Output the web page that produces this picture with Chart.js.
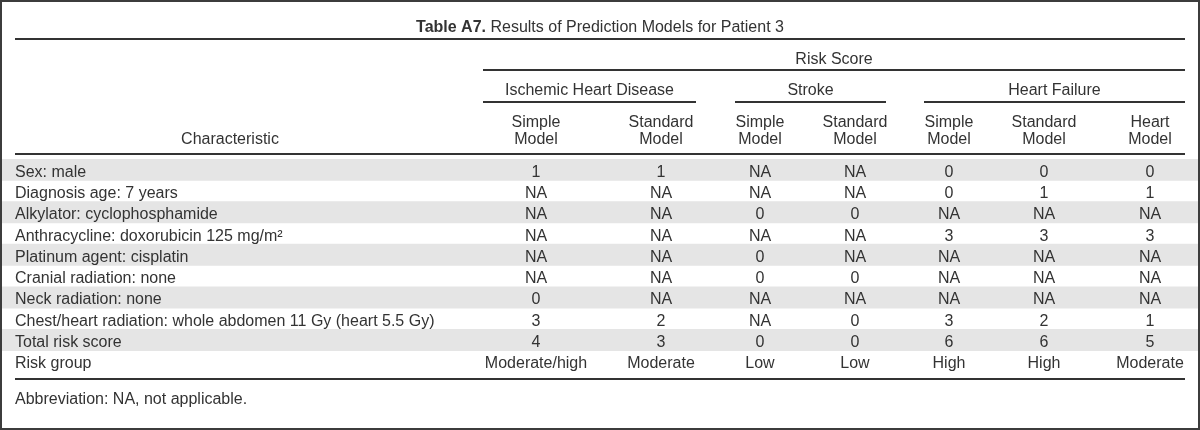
<!DOCTYPE html>
<html>
<head>
<meta charset="utf-8">
<script src="https://cdn.jsdelivr.net/npm/chart.js@4.4.1/dist/chart.umd.min.js"></script>
<style>
html,body{margin:0;padding:0;background:#fff}
#wrap{position:relative;width:1200px;height:430px}
</style>
</head>
<body>
<div id="wrap"><canvas id="c"></canvas></div>
<script>
// ---- data ----
const titleBold = "Table A7.";
const titleText = "Results of Prediction Models for Patient 3";
const spannerLabel = "Risk Score";
const groupLabels = ["Ischemic Heart Disease", "Stroke", "Heart Failure"];
const stubHeader = "Characteristic";
const modelHeaders = [
  ["Simple", "Model"], ["Standard", "Model"],
  ["Simple", "Model"], ["Standard", "Model"],
  ["Simple", "Model"], ["Standard", "Model"], ["Heart", "Model"]
];
const characteristics = [
  "Sex: male",
  "Diagnosis age: 7 years",
  "Alkylator: cyclophosphamide",
  "Anthracycline: doxorubicin 125 mg/m\u00B2",
  "Platinum agent: cisplatin",
  "Cranial radiation: none",
  "Neck radiation: none",
  "Chest/heart radiation: whole abdomen 11 Gy (heart 5.5 Gy)",
  "Total risk score",
  "Risk group"
];
const ihdSimple     = ["1", "NA", "NA", "NA", "NA", "NA", "0", "3", "4", "Moderate/high"];
const ihdStandard   = ["1", "NA", "NA", "NA", "NA", "NA", "NA", "2", "3", "Moderate"];
const strokeSimple  = ["NA", "NA", "0", "NA", "0", "0", "NA", "NA", "0", "Low"];
const strokeStandard= ["NA", "NA", "0", "NA", "NA", "0", "NA", "0", "0", "Low"];
const hfSimple      = ["0", "0", "NA", "3", "NA", "NA", "NA", "3", "6", "High"];
const hfStandard    = ["0", "1", "NA", "3", "NA", "NA", "NA", "2", "6", "High"];
const hfHeart       = ["0", "1", "NA", "3", "NA", "NA", "NA", "1", "5", "Moderate"];
const footnote = "Abbreviation: NA, not applicable.";

const modelColumns = [ihdSimple, ihdStandard, strokeSimple, strokeStandard, hfSimple, hfStandard, hfHeart];

// ---- layout (positions in x-scale units / pixels) ----
const LAYOUT = {
  ruleLeft: 15, ruleRight: 1185, spanLeft: 483,
  colX: [536, 661, 760, 855, 949, 1044, 1150],
  stubX: 230, textLeft: 15,
  titleY: 32, spannerY: 64, groupY: 95, sub1Y: 127, sub2Y: 144, footY: 404,
  rules: { title: 38, spanner: 69, group: 101, head: 153, bottom: 378 },
  groupRules: [[483, 696], [735, 886], [924, 1185]]
};
const FONT = '"Liberation Sans", Arial, sans-serif';
const INK = '#333333';

const tablePlugin = {
  id: 'tableText',
  afterDatasetsDraw(chart) {
    const ctx = chart.ctx;
    const xs = chart.scales.x, ys = chart.scales.y;
    const X = v => xs.getPixelForValue(v);
    ctx.save();
    // outer border
    ctx.strokeStyle = '#3c3c3c';
    ctx.lineWidth = 2;
    ctx.strokeRect(1, 1, chart.width - 2, chart.height - 2);
    // rules
    ctx.fillStyle = INK;
    const full = (y) => ctx.fillRect(X(LAYOUT.ruleLeft), y, X(LAYOUT.ruleRight) - X(LAYOUT.ruleLeft), 2);
    full(LAYOUT.rules.title);
    ctx.fillRect(X(LAYOUT.spanLeft), LAYOUT.rules.spanner, X(LAYOUT.ruleRight) - X(LAYOUT.spanLeft), 2);
    LAYOUT.groupRules.forEach(([a, b]) => ctx.fillRect(X(a), LAYOUT.rules.group, X(b) - X(a), 2));
    full(LAYOUT.rules.head);
    full(LAYOUT.rules.bottom);

    // title
    ctx.textBaseline = 'alphabetic';
    const boldFont = 'bold 16px ' + FONT, regFont = '16px ' + FONT;
    ctx.font = boldFont;
    const wb = ctx.measureText(titleBold + ' ').width;
    ctx.font = regFont;
    const wr = ctx.measureText(titleText).width;
    let tx = chart.width / 2 - (wb + wr) / 2;
    ctx.textAlign = 'left';
    ctx.font = boldFont;
    ctx.fillText(titleBold, tx, LAYOUT.titleY);
    ctx.font = regFont;
    ctx.fillText(titleText, tx + wb, LAYOUT.titleY);

    // headers
    ctx.textAlign = 'center';
    ctx.fillText(spannerLabel, (X(LAYOUT.spanLeft) + X(LAYOUT.ruleRight)) / 2, LAYOUT.spannerY);
    groupLabels.forEach((g, i) => {
      const [a, b] = LAYOUT.groupRules[i];
      ctx.fillText(g, (X(a) + X(b)) / 2, LAYOUT.groupY);
    });
    modelHeaders.forEach((h, i) => {
      ctx.fillText(h[0], X(LAYOUT.colX[i]), LAYOUT.sub1Y);
      ctx.fillText(h[1], X(LAYOUT.colX[i]), LAYOUT.sub2Y);
    });
    ctx.fillText(stubHeader, X(LAYOUT.stubX), LAYOUT.sub2Y);

    // body
    characteristics.forEach((label, r) => {
      const y = ys.getPixelForValue(r) + 7;
      ctx.textAlign = 'left';
      ctx.fillText(label, X(LAYOUT.textLeft), y);
      ctx.textAlign = 'center';
      modelColumns.forEach((col, c) => ctx.fillText(col[r], X(LAYOUT.colX[c]), y));
    });

    // footnote
    ctx.textAlign = 'left';
    ctx.fillText(footnote, X(LAYOUT.textLeft), LAYOUT.footY);
    ctx.restore();
  }
};

const shading = characteristics.map((_, i) => i % 2 === 0 ? [2, 1198] : null);

new Chart(document.getElementById('c'), {
  type: 'bar',
  data: {
    labels: characteristics,
    datasets: [{
      data: shading,
      backgroundColor: '#e5e5e5',
      borderWidth: 0,
      barPercentage: 1,
      categoryPercentage: 1
    }]
  },
  options: {
    indexAxis: 'y',
    responsive: true,
    maintainAspectRatio: false,
    animation: false,
    devicePixelRatio: 1,
    layout: { padding: { top: 159, bottom: 58, left: 0, right: 0 } },
    scales: {
      x: { type: 'linear', min: 0, max: 1200, display: false },
      y: { type: 'category', offset: true, display: false, grid: { display: false } }
    },
    plugins: { legend: { display: false }, tooltip: { enabled: false }, title: { display: false } }
  },
  plugins: [tablePlugin]
});
</script>
</body>
</html>
